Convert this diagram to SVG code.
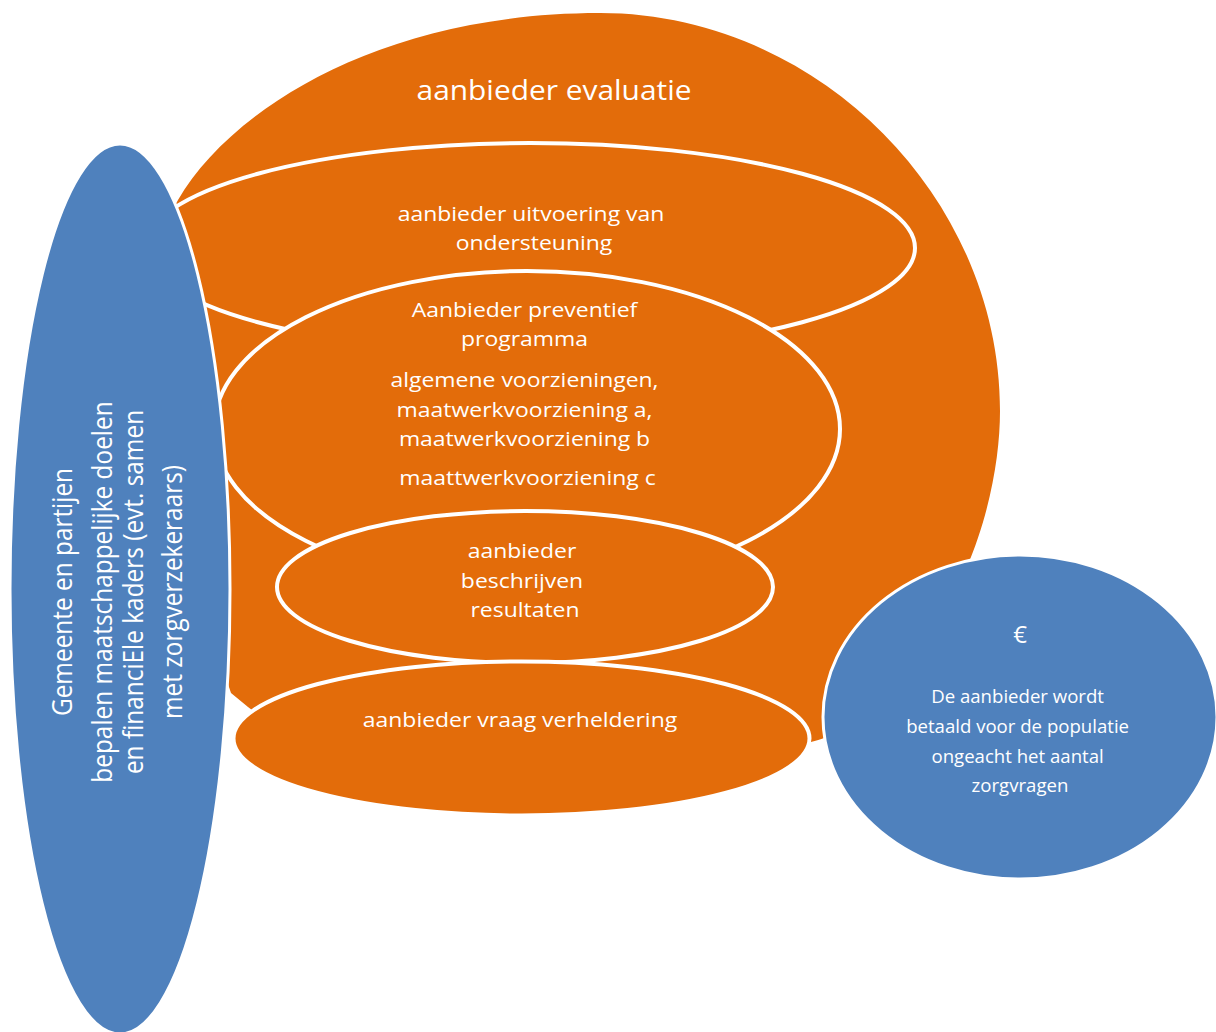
<svg xmlns="http://www.w3.org/2000/svg" width="1216" height="1032" viewBox="0 0 1216 1032">
  <style>
    .orange { fill: #E36C0A; }
    .ring { fill: #E36C0A; stroke: #FFFFFF; stroke-width: 4; }
    .blue { fill: #4F81BD; stroke: #FFFFFF; stroke-width: 3; }
    .lbl { font-family: "Open Sans", "Liberation Sans", sans-serif; fill: #FFFFFF; text-anchor: middle; }
    .big { font-size: 26.7px; }
    .mid { font-size: 20.5px; }
    .side { font-size: 24.4px; }
    .pay { font-size: 18.6px; }
  </style>

  <!-- outer layer: evaluation -->
  <g id="evaluatie">
    <path class="orange" d="M 178 200 C 230 110, 380 13, 600 13 C 815 13, 1000 195, 1000 411 C 1000 500, 960 650, 830 735 C 785 767, 308 757, 248 707 L 231 693 L 200 600 L 170 400 L 150 300 L 170 215 Z"/>
    <g class="lbl big" transform="translate(554,100) scale(1.12,1)">
      <text x="0" y="0">aanbieder evaluatie</text>
    </g>
  </g>

  <g id="uitvoering">
    <ellipse class="ring" cx="530" cy="248" rx="385" ry="105"/>
    <text class="lbl mid" transform="translate(534,0) scale(1.12,1)">
      <tspan x="0" y="220.7">aanbieder uitvoering van</tspan>
      <tspan x="0" y="250.5">ondersteuning</tspan>
    </text>
  </g>

  <g id="preventief">
    <ellipse class="ring" cx="527" cy="429" rx="313" ry="158"/>
    <text class="lbl mid" transform="translate(527.5,0) scale(1.12,1)">
      <tspan x="0" y="317.3">Aanbieder preventief</tspan>
      <tspan x="0" y="346">programma</tspan>
      <tspan x="0" y="387.3">algemene voorzieningen,</tspan>
      <tspan x="0" y="416.7">maatwerkvoorziening a,</tspan>
      <tspan x="0" y="445.7">maatwerkvoorziening b</tspan>
      <tspan x="0" y="485">maattwerkvoorziening c</tspan>
    </text>
  </g>

  <g id="resultaten">
    <ellipse class="ring" cx="525" cy="587" rx="248" ry="76"/>
    <text class="lbl mid" transform="translate(525,0) scale(1.12,1)">
      <tspan x="0" y="558.3">aanbieder</tspan>
      <tspan x="0" y="588.3">beschrijven</tspan>
      <tspan x="0" y="617.3">resultaten</tspan>
    </text>
  </g>

  <g id="vraagverheldering">
    <ellipse class="ring" cx="521.5" cy="738.5" rx="288" ry="77"/>
    <text class="lbl mid" transform="translate(520,726.7) scale(1.12,1)" x="0" y="0">aanbieder vraag verheldering</text>
  </g>

  <!-- framework set by the municipality -->
  <g id="gemeente">
    <ellipse class="blue" cx="120" cy="589" rx="110" ry="445"/>
    <g class="lbl side">
      <text transform="translate(71.7,592) scale(1.12,1) rotate(-90)" x="0" y="0">Gemeente en partijen</text>
      <text transform="translate(112,592) scale(1.12,1) rotate(-90)" x="0" y="0">bepalen maatschappelijke doelen</text>
      <text transform="translate(143.3,592) scale(1.12,1) rotate(-90)" x="0" y="0">en financiEle kaders (evt. samen</text>
      <text transform="translate(181.7,592) scale(1.12,1) rotate(-90)" x="0" y="0">met zorgverzekeraars)</text>
    </g>
  </g>

  <!-- payment -->
  <g id="betaling">
    <ellipse class="blue" cx="1020" cy="717" rx="197" ry="162"/>
    <text class="lbl" x="1020" y="643" font-size="24">€</text>
    <text class="lbl pay">
      <tspan x="1020" y="703">De aanbieder wordt</tspan>
      <tspan x="1020" y="733">betaald voor de populatie</tspan>
      <tspan x="1020" y="762.5">ongeacht het aantal</tspan>
      <tspan x="1020" y="792">zorgvragen</tspan>
    </text>
  </g>
</svg>
